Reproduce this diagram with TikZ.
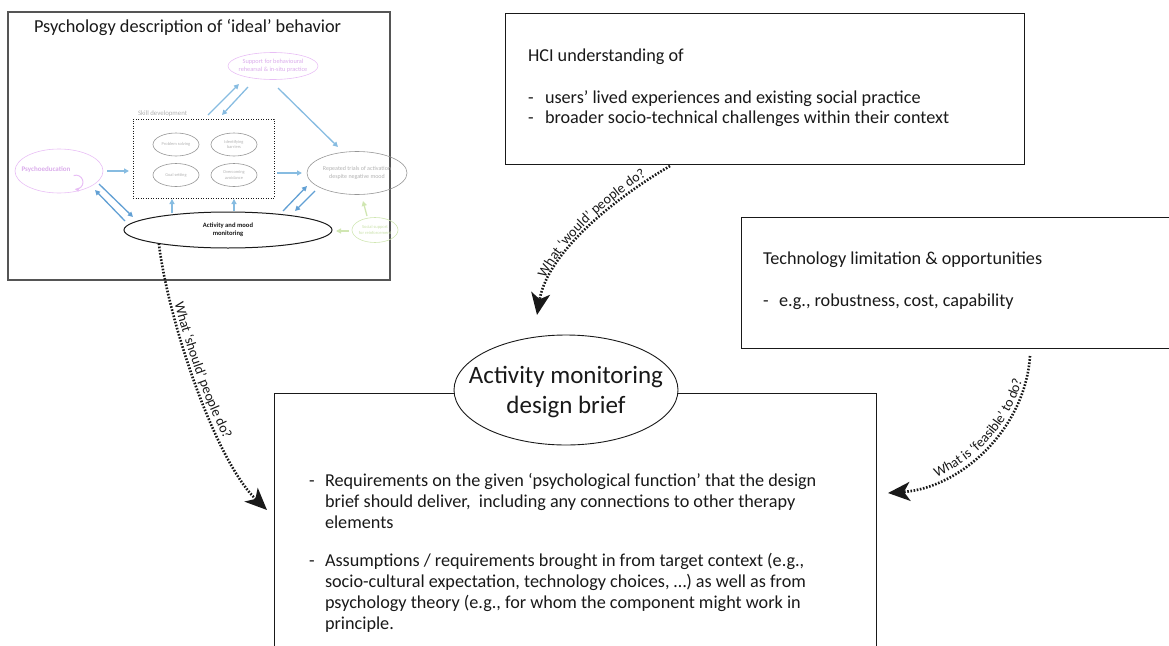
\documentclass[tikz,border=0pt]{standalone}
\usepackage{fontspec}
\setmainfont{Carlito}
\usetikzlibrary{arrows.meta,shapes.geometric,decorations.text}

\definecolor{ink}{RGB}{25,25,25}
\definecolor{frame}{RGB}{85,85,85}
\definecolor{flowblue}{RGB}{135,188,225}
\definecolor{flowdeep}{RGB}{98,160,212}
\definecolor{softpink}{RGB}{232,190,245}
\definecolor{softpinktext}{RGB}{218,172,235}
\definecolor{softgray}{RGB}{150,150,150}
\definecolor{softgraytext}{RGB}{178,178,178}
\definecolor{softgreen}{RGB}{208,230,178}
\definecolor{softgreentext}{RGB}{200,224,168}

\newcommand{\questionfont}{\fontsize{14}{16}\selectfont\color{ink}}

\begin{document}
\begin{tikzpicture}[x=1pt,y=-1pt,
  every node/.style={inner sep=0pt, outer sep=0pt, text=ink},
  bubble/.style={draw, ellipse, line width=0.6pt},
  minibub/.style={bubble, draw=softgray, minimum width=46pt, minimum height=23pt,
    text=softgraytext, font=\fontsize{4.4}{5.2}\selectfont, align=center},
  flow/.style={draw=flowblue, line width=1.3pt, -{Triangle[length=5pt,width=5pt]}},
  flowdark/.style={flow, draw=flowdeep},
  probe/.style={draw=ink, line width=2.6pt, dash pattern=on 1.6pt off 1.6pt,
    -{Stealth[length=22pt,width=19pt,inset=6pt]}},
  body/.style={anchor=base west, font=\fontsize{18.2}{21}\selectfont},
  side/.style={anchor=base west, font=\fontsize{18.2}{20}\selectfont}
]
\clip (0,0) rectangle (1169,645);

% ---------- psychology model panel ----------
\node[draw=frame, line width=1.2pt, minimum width=382pt, minimum height=268pt,
  anchor=north west] (psybox) at (8,12) {};
\node[anchor=base west, font=\fontsize{18.3}{20}\selectfont] (psytitle) at (34,32)
  {Psychology description of ‘ideal’ behavior};

\node[bubble, draw=softpink, minimum width=90pt, minimum height=27pt] (sup) at (273,66) {};
\node[align=center, text=softpinktext, font=\fontsize{6.3}{7.6}\selectfont] (supT) at (273,66)
  {Support for behavioural\\rehearsal \& in-situ practice};

\node[draw=ink, line width=0.8pt, dash pattern=on 0.9pt off 1.6pt,
  minimum width=141pt, minimum height=79pt] (skill) at (203.5,158.5) {};
\node[anchor=base west, text=softgraytext, font=\fontsize{6.8}{8}\selectfont] (skillT) at (138,115.5)
  {Skill development};

\node[minibub] (ps) at (176,144.5) {Problem solving};
\node[minibub] (ib) at (234,144.5) {Identifying\\barriers};
\node[minibub] (gs) at (176,175) {Goal setting};
\node[minibub] (oa) at (234,175) {Overcoming\\avoidance};

\node[bubble, draw=softpink, minimum width=88pt, minimum height=44pt] (psy) at (59,171) {};
\node[text=softpinktext, font=\fontsize{7}{8}\selectfont\bfseries] (psyT) at (46,170) {Psychoeducation};
\draw[draw=softpink, line width=1pt, -{Triangle[length=4pt,width=4pt]}]
  ([shift={(14.6,4.6)}]psy.center) arc[start angle=110, end angle=-100, radius=7pt];

\node[bubble, draw=softgray, minimum width=100pt, minimum height=43pt] (rep) at (357,173) {};
\node[align=center, text=softgraytext, font=\fontsize{6}{7.6}\selectfont] (repT) at (357,173)
  {Repeated trials of activation\\despite negative mood};

\node[bubble, draw=ink, line width=1pt, minimum width=208pt, minimum height=36pt,
  align=center, font=\fontsize{6.6}{8}\selectfont\bfseries] (act) at (228,230)
  {Activity and mood\\monitoring};

\node[bubble, draw=softgreen, minimum width=46pt, minimum height=25pt] (soc) at (375,230) {};
\node[align=center, text=softgreentext, font=\fontsize{4.5}{5.4}\selectfont] (socT) at (375,230)
  {Social support\\for reinforcement};

% flows between therapy elements
\draw[flow, shorten <=4pt, shorten >=4pt] (psy.east) -- (psy.east -| skill.west);
\draw[flow, shorten <=3pt, shorten >=5pt] (rep.west -| skill.east) -- (rep.west);
\draw[flow] ([shift={(4.5,-4)}]skill.north) -- ([shift={(-34,4.5)}]sup.south);
\draw[flow] ([shift={(-25,7.5)}]sup.south) -- ([shift={(18.5,-4)}]skill.north);
\draw[flow] ([shift={(5,8.5)}]sup.south) -- ([shift={(-19,-4.5)}]rep.north);
\draw[flowdark] ([shift={(40,13)}]psy.center) -- ([shift={(-95,-13)}]act.center);
\draw[flowdark] ([shift={(-103,-9)}]act.center) -- ([shift={(36,19)}]psy.center);
\draw[flow] ([shift={(-56,1)}]act.north) -- ([shift={(-31.5,1)}]skill.south);
\draw[flow] ([shift={(6,-1)}]act.north) -- ([shift={(30.5,1)}]skill.south);
\draw[flowdark] ([shift={(55,-1)}]act.north) -- ([shift={(-50,13)}]rep.center);
\draw[flowdark] ([shift={(-42,18)}]rep.center) -- ([shift={(67,-1)}]act.north);
\draw[flow, draw=softgreen] ([shift={(-8,-1.5)}]soc.north) -- ([shift={(6,6.5)}]rep.south);
\draw[flow, draw=softgreen] ([shift={(-3,1)}]soc.west) -- ([shift={(4,1)}]act.east);

% ---------- HCI panel ----------
\node[draw=ink, line width=1pt, minimum width=519pt, minimum height=151pt,
  anchor=north west] (hci) at (505,13) {};
\node[side] (hciT) at (528,61) {HCI understanding of};
\node[side] (hciD1) at (528,103) {-};
\node[side] (hciL1) at (545,103) {users’ lived experiences and existing social practice};
\node[side] (hciD2) at (528,123) {-};
\node[side] (hciL2) at (545,123) {broader socio-technical challenges within their context};

% ---------- technology panel ----------
\node[draw=ink, line width=1pt, minimum width=440pt, minimum height=131pt,
  anchor=north west] (tech) at (741,217) {};
\node[side] (techT) at (763,264) {Technology limitation \& opportunities};
\node[side] (techD1) at (763,306) {-};
\node[side] (techL1) at (779,306) {e.g., robustness, cost, capability};

% ---------- design brief ----------
\node[draw=ink, line width=1pt, minimum width=602pt, minimum height=300pt,
  anchor=north west] (brief) at (274,393) {};
\node[bubble, draw=ink, line width=0.9pt, fill=white, minimum width=224pt, minimum height=110pt]
  (briefE) at (566,390) {};
\node[align=center, font=\fontsize{25}{30}\selectfont] (briefT) at (566,392)
  {Activity monitoring\\design brief};

\node[body] (bD1) at (309,486) {-};
\node[body] (b1a) at (325,486) {Requirements on the given ‘psychological function’ that the design};
\node[body] (b1b) at (325,507) {brief should deliver,\ \ including any connections to other therapy};
\node[body] (b1c) at (325,528) {elements};
\node[body] (bD2) at (309,566) {-};
\node[body] (b2a) at (325,566) {Assumptions / requirements brought in from target context (e.g.,};
\node[body] (b2b) at (325,587) {socio-cultural expectation, technology choices, …) as well as from};
\node[body] (b2c) at (325,608) {psychology theory (e.g., for whom the component might work in};
\node[body] (b2d) at (325,629) {principle.};

% ---------- guiding questions ----------
\coordinate (shouldTail) at (act.191);
\coordinate (shouldTip) at (267,510);
\coordinate (wouldTail) at ([shift={(-94.5,2)}]hci.south);
\coordinate (wouldTip) at (537,315);
\coordinate (feasibleTail) at ([shift={(69,8)}]tech.south);
\coordinate (feasibleTip) at (888,493);

\draw[probe] (shouldTail) .. controls (168,320) and (215,460) .. (shouldTip);
\draw[probe] (wouldTail) .. controls (620,195) and (548,250) .. (wouldTip);
\draw[probe] (feasibleTail) .. controls (1025,430) and (960,488) .. (feasibleTip);

% question labels set along the arrows, reading upwards or downwards
\path[decorate, decoration={text along path, raise=4pt, text align={left indent=62pt},
  text={|\questionfont|What ‘should’ people do?}}]
  (shouldTail) .. controls (168,320) and (215,460) .. (shouldTip);
\path[decorate, decoration={text along path, raise=4pt, text align={left indent=37pt},
  text={|\questionfont|What ‘would’ people do?}}]
  (wouldTip) .. controls (548,250) and (620,195) .. (wouldTail);
\path[decorate, decoration={text along path, raise=4pt, text align={left indent=52pt},
  text={|\questionfont|What is ‘feasible’ to do?}}]
  (feasibleTip) .. controls (960,488) and (1025,430) .. (feasibleTail);
\end{tikzpicture}
\end{document}
